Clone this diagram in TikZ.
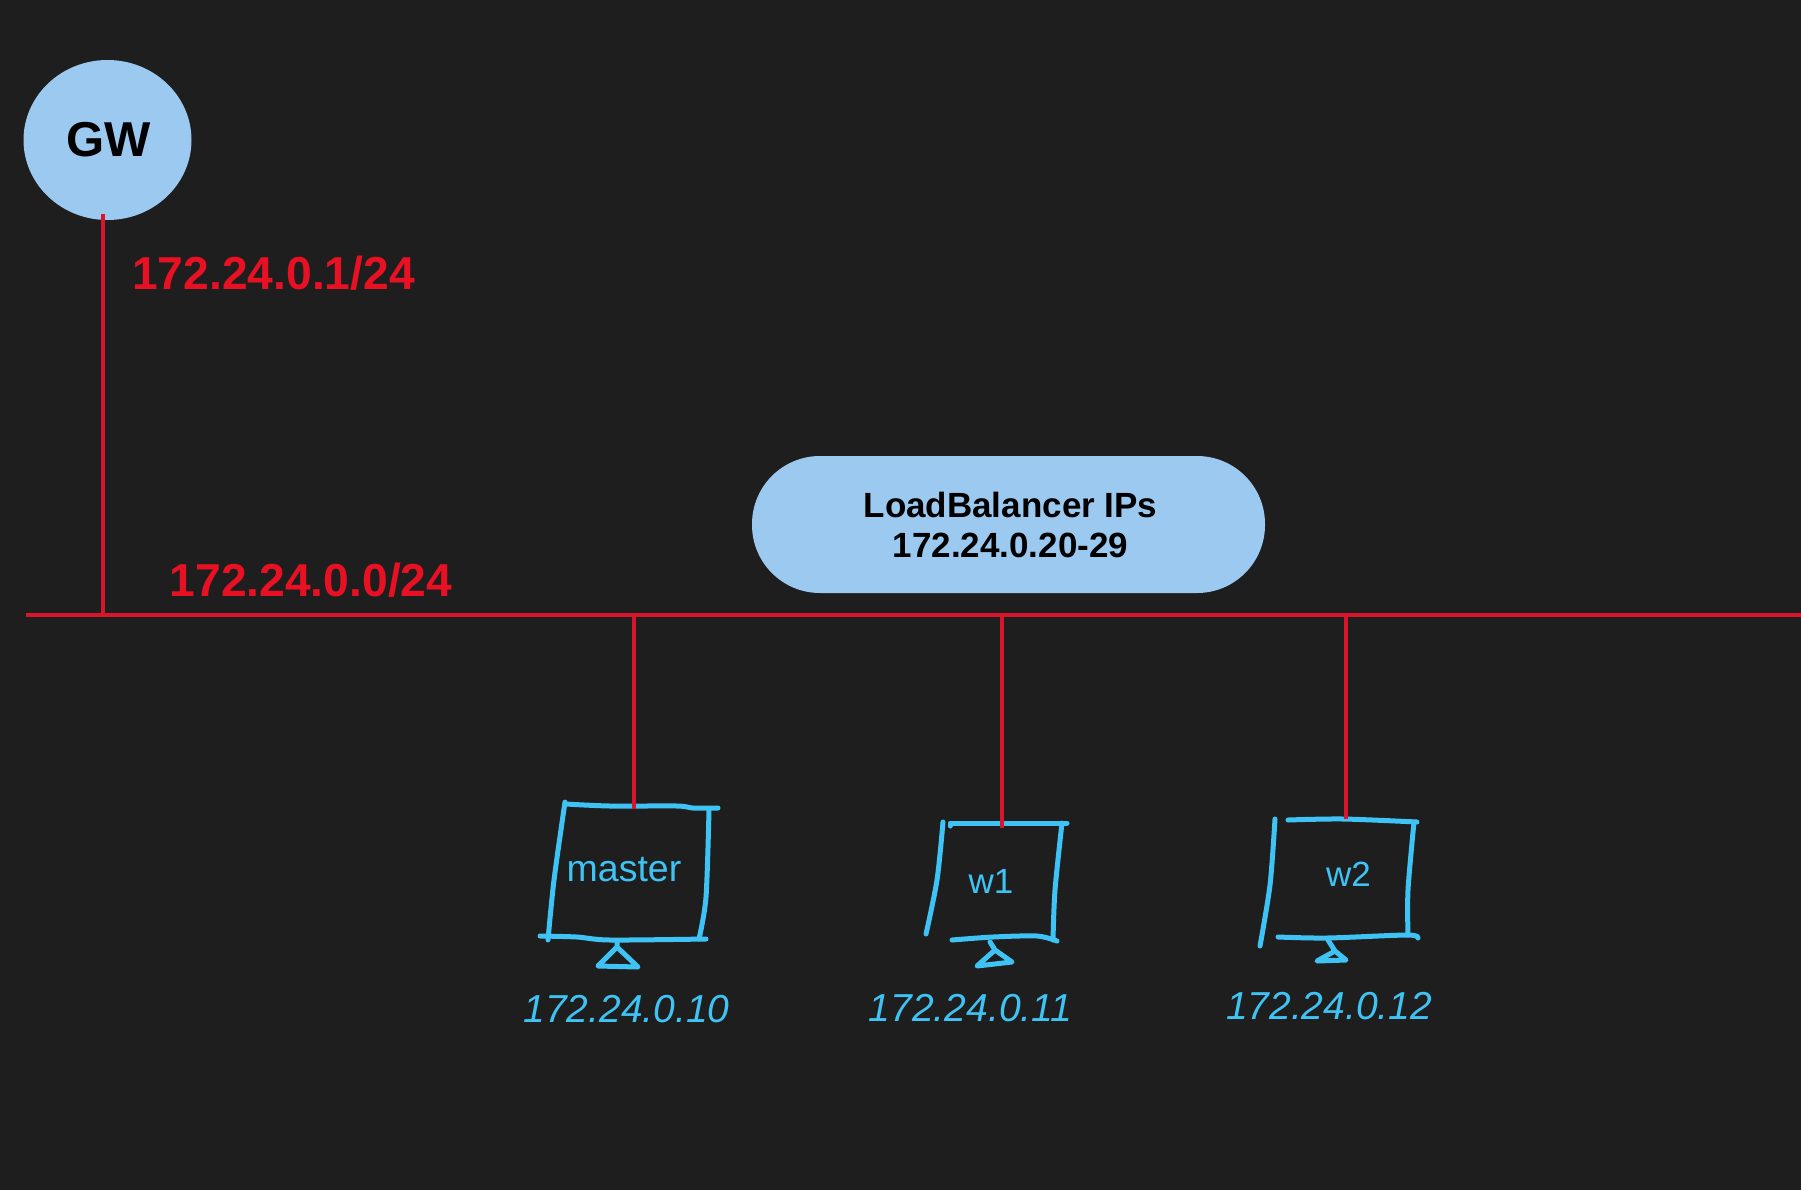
\documentclass[tikz,border=0pt]{standalone}
\usepackage{fontspec}
\setmainfont{Liberation Sans}
\usetikzlibrary{positioning,shapes.geometric}
\definecolor{mydark}{HTML}{1E1E1E}
\definecolor{myblue}{HTML}{9BC9F0}
\definecolor{myred}{HTML}{D8152B}
\definecolor{mytextred}{HTML}{E81123}
\definecolor{mycyan}{HTML}{3EC3F4}
\tikzset{
  netline/.style={myred,line width=4pt},
  sketch/.style={mycyan,line width=5pt,line cap=round,line join=round},
  netlabel/.style={mytextred,inner sep=0pt,font=\fontsize{46.2}{50}\selectfont\bfseries},
  hostname/.style={mycyan,inner sep=0pt,font=\fontsize{35}{40}\selectfont},
  hostip/.style={mycyan,inner sep=0pt,font=\fontsize{39}{42}\selectfont\itshape},
}
\begin{document}
\begin{tikzpicture}[x=1pt,y=-1pt]
\useasboundingbox (0,0) rectangle (1801,1189);
\fill[mydark] (-3,-3) rectangle (1804,1192);
\node[ellipse,fill=myblue,minimum width=168pt,minimum height=160pt,inner sep=0pt,font=\fontsize{49}{50}\selectfont\bfseries] (gw) at (107.5,140) {\kern2pt GW};
\node[rectangle,rounded corners=68pt,fill=myblue,minimum width=513pt,minimum height=137pt,inner sep=0pt] (lbpool) at (1008.5,524.5) {};
\node[inner sep=0pt,align=center,font=\fontsize{35}{40}\selectfont\bfseries,xshift=2pt] (lblabel) at (lbpool) {LoadBalancer IPs\\172.24.0.20-29};
\node[netlabel] (gwnet) at (273.5,273) {172.24.0.1/24};
\node[netlabel] (subnet) at (311,580) {172.24.0.0/24};
% master
\draw[sketch] plot[smooth] coordinates {(565,802) (554,880) (548,940)};
\draw[sketch] plot[smooth] coordinates {(566,804) (610,806) (677,806) (693,808) (718,808)};
\draw[sketch] plot[smooth] coordinates {(709,810) (706,897) (699,939)};
\draw[sketch] plot[smooth] coordinates {(540,936) (577,937) (610,940) (706,939)};
\draw[sketch] (617,942) -- (617,947) -- (598,966) -- (638,967) -- (617,947);
\node[hostname,font=\fontsize{37.5}{40}\selectfont] (master) at (624,870) {master};
\node[hostip] (masterip) at (626.5,1009) {172.24.0.10};
% w1
\draw[sketch] plot[smooth] coordinates {(943,822) (937,880) (926,934)};
\draw[sketch] (950,826) -- (950,823) -- (1067,823);
\draw[sketch] plot[smooth] coordinates {(1062,823) (1055,890) (1053,940)};
\draw[sketch] plot[smooth] coordinates {(952,940) (993,937) (1037,936) (1057,941)};
\draw[sketch] (990,942) -- (995,950) -- (977,966) -- (1012,962) -- (995,950);
\node[hostname] (wone) at (991,881) {w1};
\node[hostip] (woneip) at (970.5,1008) {172.24.0.11};
% w2
\draw[sketch] plot[smooth] coordinates {(1275,819) (1270,885) (1260,946)};
\draw[sketch] plot[smooth] coordinates {(1288,820) (1343,819) (1417,822)};
\draw[sketch] plot[smooth] coordinates {(1414,822) (1408,890) (1408,935)};
\draw[sketch] plot[smooth] coordinates {(1278,937) (1327,938) (1407,935) (1418,938)};
\draw[sketch] (1328,940) -- (1335,951) -- (1317,961) -- (1346,960) -- (1335,951);
\node[hostname] (wtwo) at (1348.5,874) {w2};
\node[hostip] (wtwoip) at (1329,1006) {172.24.0.12};
% network
\coordinate (busleft) at (26,614.5);
\coordinate (busright) at (1804,614.5);
\coordinate (gwdrop) at (102.5,214);
\coordinate (gwbus) at (102.5,614.5);
\coordinate (masterbus) at (634,614.5);
\coordinate (mastertop) at (634,809);
\coordinate (wonebus) at (1002,614.5);
\coordinate (wonetop) at (1002,828);
\coordinate (wtwobus) at (1346,614.5);
\coordinate (wtwotop) at (1346,819);
\draw[netline] (busleft) -- (busright);
\draw[netline] (gwdrop) -- (gwbus);
\foreach \host in {master,wone,wtwo}
  \draw[netline] (\host bus) -- (\host top);
\end{tikzpicture}
\end{document}
